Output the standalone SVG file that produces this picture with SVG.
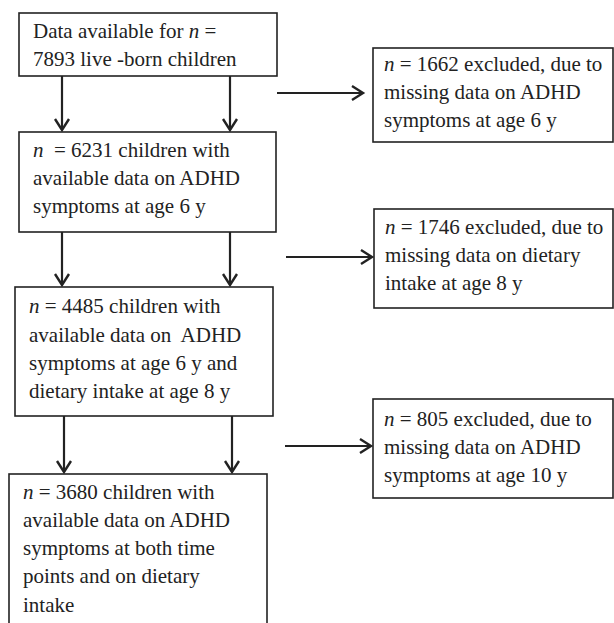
<svg xmlns="http://www.w3.org/2000/svg" width="614" height="623" viewBox="0 0 614 623">
<style>
  .box { fill: #fff; stroke: #222; stroke-width: 1.6; }
  .t { font-family: "Liberation Serif", "Times New Roman", serif; font-size: 21px; fill: #222; white-space: pre; }
  .i { font-style: italic; }
  .c { stroke: #222; stroke-width: 2.2; fill: none; marker-end: url(#ah); }
</style>
<defs>
  <marker id="ah" markerUnits="userSpaceOnUse" markerWidth="16" markerHeight="18" viewBox="-13 -9 16 18" refX="0" refY="0" orient="auto">
    <path d="M-11,-7 L0,0 L-11,7" fill="none" stroke="#222" stroke-width="2.4"/>
  </marker>
</defs>
<rect width="614" height="623" fill="#fff"/>
<g id="connectors">
  <line class="c" x1="62" y1="76" x2="62" y2="130"/>
  <line class="c" x1="230" y1="76" x2="230" y2="130"/>
  <line class="c" x1="62" y1="232" x2="62" y2="285"/>
  <line class="c" x1="230" y1="232" x2="230" y2="285"/>
  <line class="c" x1="64" y1="416" x2="64" y2="472"/>
  <line class="c" x1="232" y1="416" x2="232" y2="472"/>
  <line class="c" x1="277" y1="93" x2="363" y2="93"/>
  <line class="c" x1="286" y1="257" x2="372" y2="257"/>
  <line class="c" x1="285" y1="446" x2="371" y2="446"/>
</g>
<g id="n1">
  <rect class="box" x="19" y="13" width="258" height="63"/>
  <text class="t" x="33" y="38" xml:space="preserve">Data available for <tspan class="i">n</tspan> =</text>
  <text class="t" x="33" y="66" xml:space="preserve">7893 live -born children</text>
</g>
<g id="n2">
  <rect class="box" x="19" y="132" width="257" height="100"/>
  <text class="t" x="33" y="157" xml:space="preserve"><tspan class="i">n</tspan>  = 6231 children with</text>
  <text class="t" x="33" y="185">available data on ADHD</text>
  <text class="t" x="33" y="213">symptoms at age 6 y</text>
</g>
<g id="n3">
  <rect class="box" x="15" y="287" width="258" height="129"/>
  <text class="t" x="29" y="313" xml:space="preserve"><tspan class="i">n</tspan> = 4485 children with</text>
  <text class="t" x="29" y="342" xml:space="preserve">available data on  ADHD</text>
  <text class="t" x="29" y="370">symptoms at age 6 y and</text>
  <text class="t" x="29" y="398">dietary intake at age 8 y</text>
</g>
<g id="n4">
  <rect class="box" x="9" y="474" width="258" height="160"/>
  <text class="t" x="23" y="499" xml:space="preserve"><tspan class="i">n</tspan> = 3680 children with</text>
  <text class="t" x="23" y="527">available data on ADHD</text>
  <text class="t" x="23" y="555">symptoms at both time</text>
  <text class="t" x="23" y="583">points and on dietary</text>
  <text class="t" x="23" y="612">intake</text>
</g>
<g id="r1">
  <rect class="box" x="373" y="48" width="240" height="94"/>
  <text class="t" x="384" y="71" xml:space="preserve"><tspan class="i">n</tspan> = 1662 excluded, due to</text>
  <text class="t" x="384" y="99">missing data on ADHD</text>
  <text class="t" x="384" y="127">symptoms at age 6 y</text>
</g>
<g id="r2">
  <rect class="box" x="374" y="209" width="239" height="99"/>
  <text class="t" x="385" y="234" xml:space="preserve"><tspan class="i">n</tspan> = 1746 excluded, due to</text>
  <text class="t" x="385" y="262">missing data on dietary</text>
  <text class="t" x="385" y="290">intake at age 8 y</text>
</g>
<g id="r3">
  <rect class="box" x="373" y="399" width="240" height="99"/>
  <text class="t" x="384" y="426" xml:space="preserve"><tspan class="i">n</tspan> = 805 excluded, due to</text>
  <text class="t" x="384" y="454">missing data on ADHD</text>
  <text class="t" x="384" y="482">symptoms at age 10 y</text>
</g>
</svg>
